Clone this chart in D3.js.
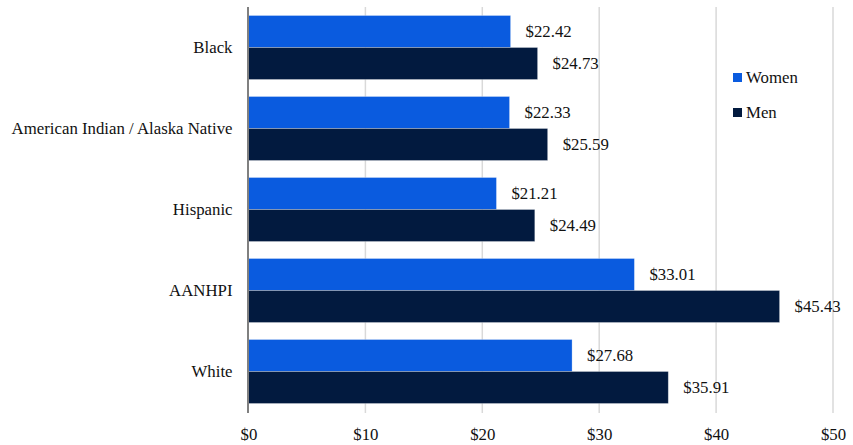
<!DOCTYPE html>
<html>
<head>
<meta charset="utf-8">
<script src="https://cdn.jsdelivr.net/npm/d3@7/dist/d3.min.js"></script>
<style>
  html, body { margin: 0; padding: 0; background: #ffffff; }
</style>
</head>
<body>
<svg id="chart" width="853" height="445"></svg>
<script>
// Median hourly wages by race/ethnicity and gender
const categories = ["Black", "American Indian / Alaska Native", "Hispanic", "AANHPI", "White"];
const women = [22.42, 22.33, 21.21, 33.01, 27.68];
const men = [24.73, 25.59, 24.49, 45.43, 35.91];
const seriesNames = ["Women", "Men"];
const seriesColors = ["#0A5BDF", "#021A3F"];
const xTicks = [0, 10, 20, 30, 40, 50];

const FONT = "'Liberation Serif', 'Times New Roman', Times, serif";
const FS = 16.8;

const svg = d3.select("#chart").style("font-family", FONT);
const W = 853, H = 445;
const margin = { left: 248.5, right: 20, top: 7, bottom: 33 };

const x = d3.scaleLinear().domain([0, 50]).range([margin.left, 833]);
const y = d3.scaleBand().domain(categories).range([margin.top, H - margin.bottom])
  .paddingInner(0.21).paddingOuter(0.105);
const ySub = d3.scaleBand().domain(seriesNames).range([0, y.bandwidth()]);

const rows = categories.map((c, i) => ({ cat: c, values: [women[i], men[i]] }));

// vertical gridlines
svg.append("g")
  .selectAll("line")
  .data(xTicks.slice(1))
  .join("line")
  .attr("x1", d => x(d)).attr("x2", d => x(d))
  .attr("y1", margin.top).attr("y2", H - margin.bottom + 1)
  .attr("stroke", "#d9d9d9").attr("stroke-width", 1.5);

// x axis tick labels
const xAxis = d3.axisBottom(x).tickValues(xTicks).tickFormat(d => "$" + d).tickSize(0).tickPadding(0);
const gx = svg.append("g")
  .attr("transform", `translate(0, ${H - margin.bottom + 11})`)
  .call(xAxis)
  .attr("font-family", null);
gx.select(".domain").remove();
gx.selectAll("text")
  .attr("dy", "1em")
  .style("font-family", FONT)
  .attr("font-size", FS).attr("fill", "#111");

// bars
const groups = svg.append("g").selectAll("g")
  .data(rows).join("g")
  .attr("transform", d => `translate(0, ${y(d.cat)})`);

groups.selectAll("rect")
  .data(d => d.values.map((v, j) => ({ v, s: seriesNames[j], j })))
  .join("rect")
  .attr("x", x(0))
  .attr("y", d => ySub(d.s))
  .attr("width", d => x(d.v) - x(0))
  .attr("height", ySub.bandwidth())
  .attr("fill", d => seriesColors[d.j])
  .attr("stroke", "#ffffff").attr("stroke-opacity", 0.35).attr("stroke-width", 0.8);

groups.selectAll("text.val")
  .data(d => d.values.map((v, j) => ({ v, s: seriesNames[j] })))
  .join("text")
  .attr("class", "val")
  .attr("x", d => x(d.v) + 15)
  .attr("y", d => ySub(d.s) + ySub.bandwidth() / 2)
  .attr("dy", "0.35em")
  .style("font-family", FONT)
  .attr("font-size", FS).attr("fill", "#111")
  .text(d => "$" + d.v.toFixed(2));

// y axis category labels
const yAxis = d3.axisLeft(y).tickSize(0).tickPadding(16);
const gy = svg.append("g").attr("transform", `translate(${margin.left}, 0)`).call(yAxis)
  .attr("font-family", null);
gy.select(".domain").remove();
gy.selectAll("text")
  .style("font-family", FONT)
  .attr("font-size", FS).attr("fill", "#111");

// vertical axis line
svg.append("line")
  .attr("x1", x(0) - 0.5).attr("x2", x(0) - 0.5)
  .attr("y1", margin.top).attr("y2", H - margin.bottom + 1)
  .attr("stroke", "#808080").attr("stroke-width", 2);

// legend
const legend = svg.append("g").attr("transform", "translate(733, 73)");
const li = legend.selectAll("g").data(seriesNames).join("g")
  .attr("transform", (d, i) => `translate(0, ${i * 35})`);
li.append("rect").attr("width", 9).attr("height", 9)
  .attr("fill", (d, i) => seriesColors[i]);
li.append("text").attr("x", 13).attr("y", 10)
  .style("font-family", FONT)
  .attr("font-size", FS).attr("fill", "#111")
  .text(d => d);
</script>
</body>
</html>
